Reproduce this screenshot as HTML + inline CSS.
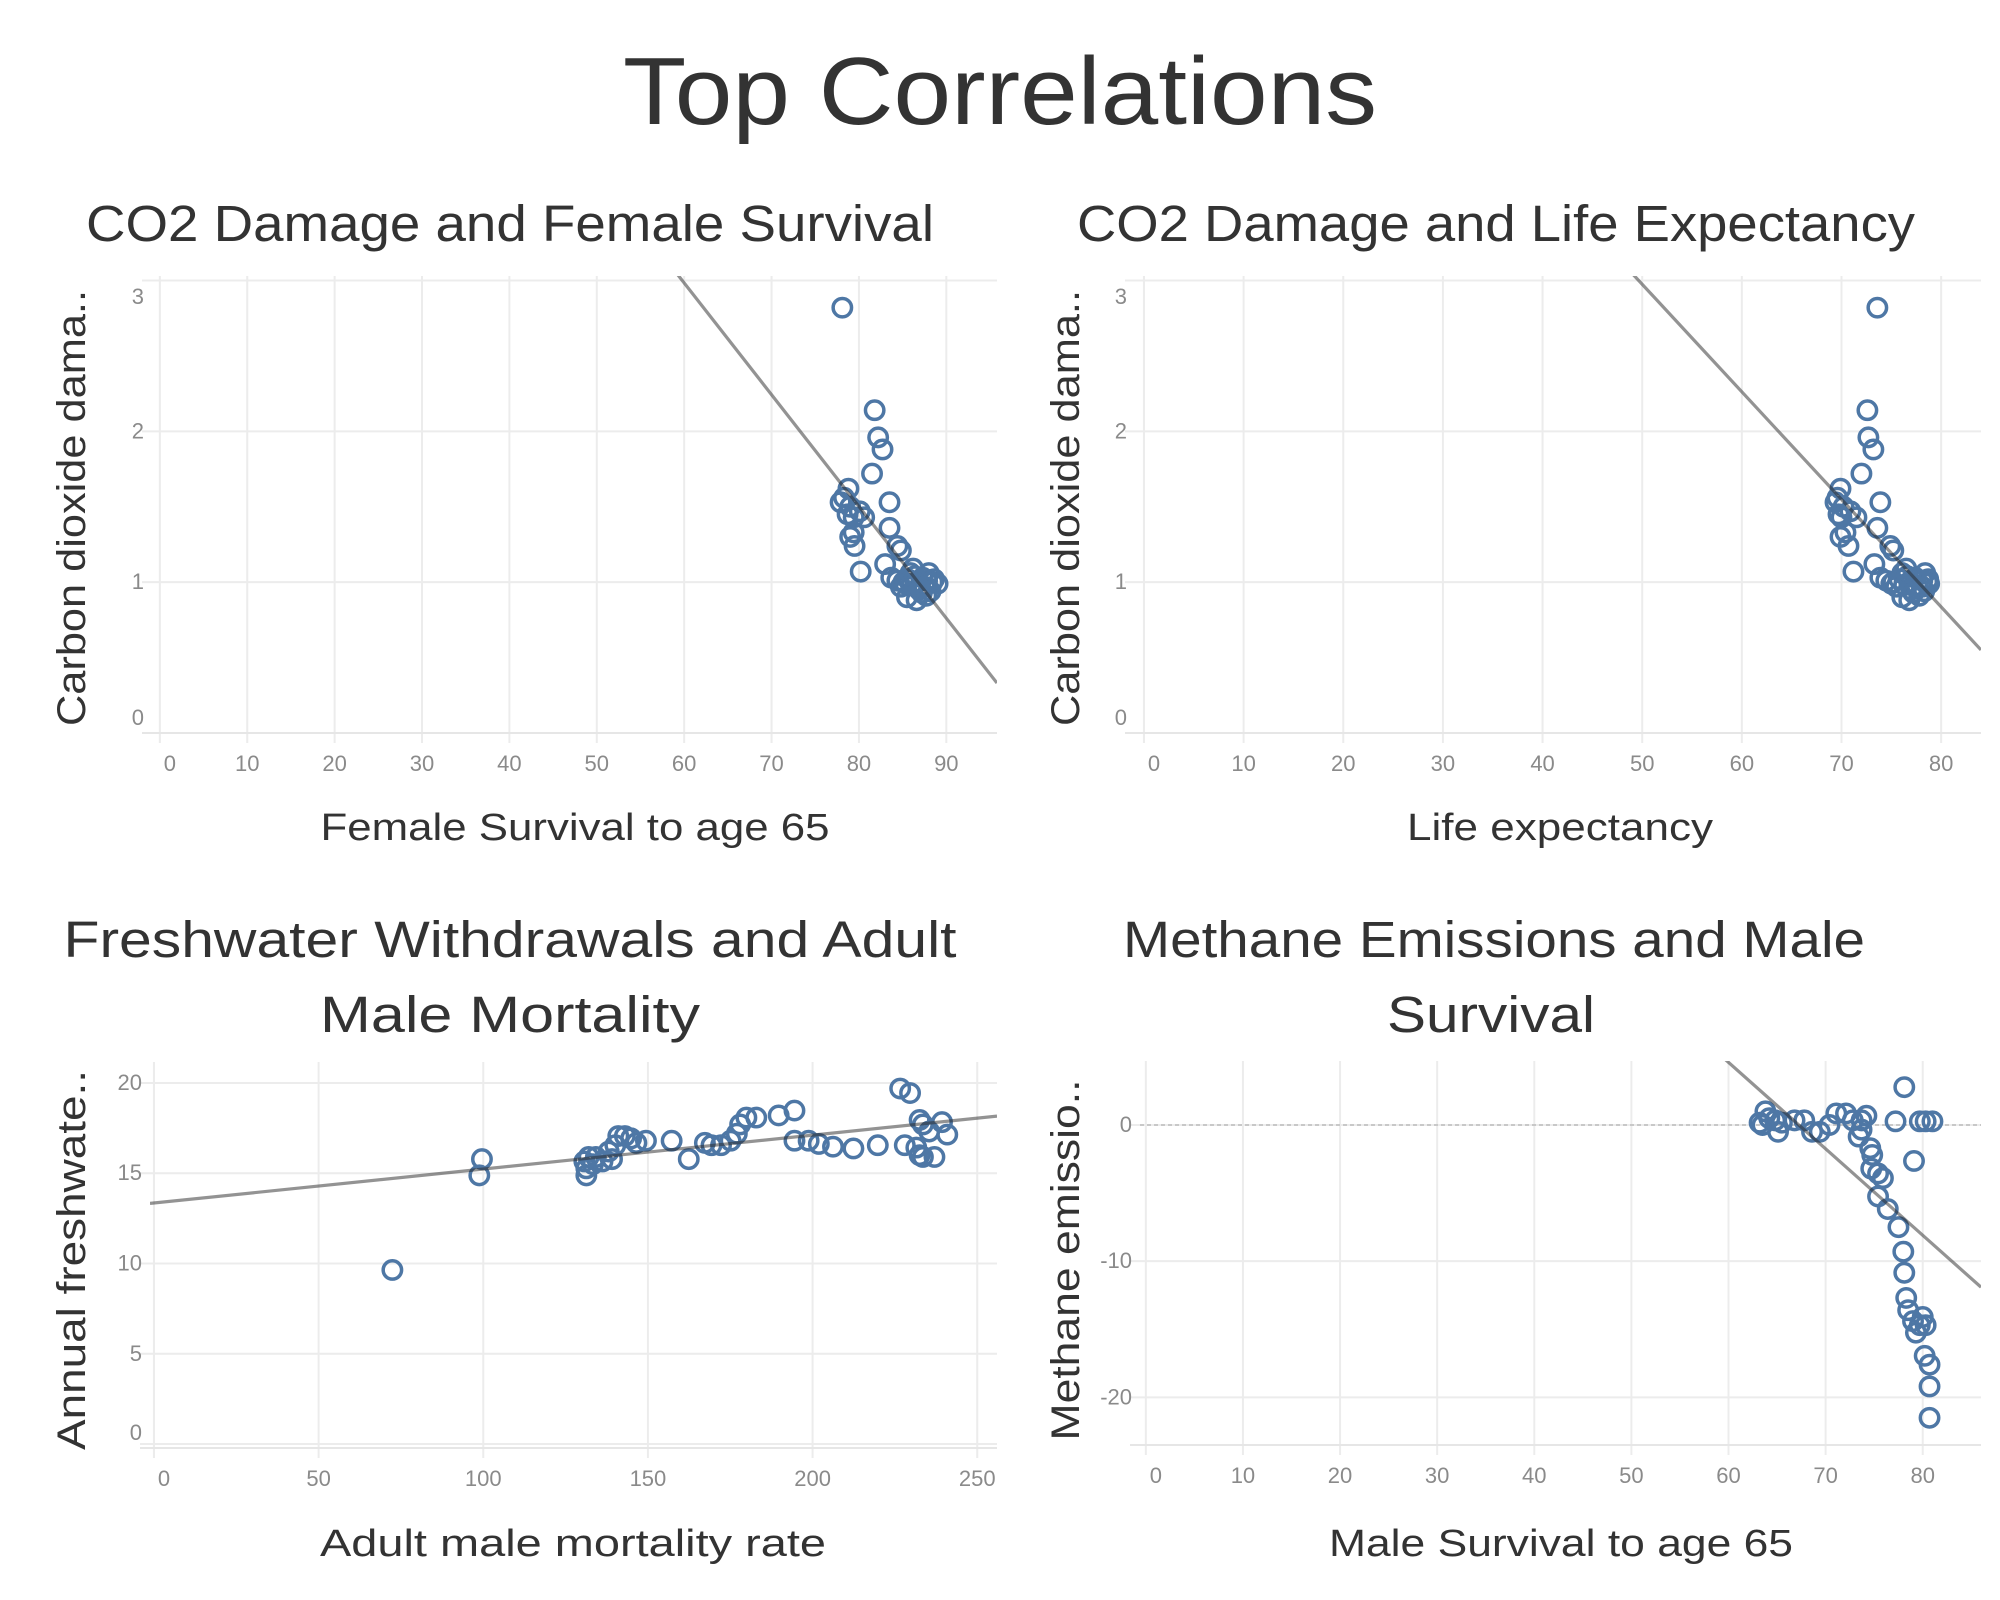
<!DOCTYPE html>
<html><head><meta charset="utf-8"><style>
html,body{margin:0;padding:0;background:#fff;}
svg{display:block;font-family:"Liberation Sans",sans-serif;}
</style></head><body>
<svg id="chart" width="2000" height="1600" viewBox="0 0 2000 1600" xmlns="http://www.w3.org/2000/svg">
<text x="1000" y="124" text-anchor="middle" font-size="96" fill="#333" textLength="754" lengthAdjust="spacingAndGlyphs">Top Correlations</text>
<text x="510" y="241" text-anchor="middle" font-size="51" fill="#333" textLength="848" lengthAdjust="spacingAndGlyphs">CO2 Damage and Female Survival</text>
<text x="1496" y="241" text-anchor="middle" font-size="51" fill="#333" textLength="838" lengthAdjust="spacingAndGlyphs">CO2 Damage and Life Expectancy</text>
<text x="510" y="957" text-anchor="middle" font-size="51" fill="#333" textLength="893" lengthAdjust="spacingAndGlyphs">Freshwater Withdrawals and Adult</text>
<text x="510" y="1032" text-anchor="middle" font-size="51" fill="#333" textLength="380" lengthAdjust="spacingAndGlyphs">Male Mortality</text>
<text x="1494" y="957" text-anchor="middle" font-size="51" fill="#333" textLength="742" lengthAdjust="spacingAndGlyphs">Methane Emissions and Male</text>
<text x="1491" y="1032" text-anchor="middle" font-size="51" fill="#333" textLength="208" lengthAdjust="spacingAndGlyphs">Survival</text>
<g id="panels"></g>
</svg>
<script>
// Panel 1 data: Female survival vs CO2 damage
const p1X = [78.1,81.8,82.2,82.7,81.5,83.5,78.8,78.3,77.9,79.0,80.1,79.4,78.7,80.6,79.0,79.5,79.4,83.5,84.4,84.8,83.0,80.2,83.7,84.4,85.1,85.9,86.2,86.6,87.3,87.8,88.4,89.0,85.5,86.6,87.7,87.0,84.8,88.0,85.6,86.0,86.9,87.5,88.2,85.3,86.4,87.2,88.6];
const p1Y = [2.82,2.14,1.96,1.88,1.72,1.53,1.62,1.56,1.53,1.50,1.47,1.43,1.45,1.43,1.30,1.24,1.33,1.36,1.24,1.21,1.12,1.07,1.03,1.01,1.00,1.06,1.09,1.00,1.03,1.01,1.00,0.99,0.90,0.88,0.91,0.97,0.97,1.06,1.02,0.98,0.95,0.97,0.94,0.99,1.04,0.93,1.02];
const p1Trend = [7.43,-0.0741];
// Panel 2 data: Life expectancy vs CO2 damage
const p2X = [73.6,72.6,72.7,73.2,72.0,73.9,69.9,69.6,69.4,70.2,70.9,70.0,69.7,71.5,69.9,70.7,70.4,73.6,74.9,75.2,73.3,71.2,73.9,74.5,75.2,76.1,76.5,76.8,77.4,78.1,78.6,78.8,76.1,76.8,77.8,78.1,75.5,78.4,75.8,76.3,77.0,77.6,78.3,75.0,76.6,77.2,78.7];
const p2Y = [2.82,2.14,1.96,1.88,1.72,1.53,1.62,1.56,1.53,1.50,1.47,1.43,1.45,1.43,1.30,1.24,1.33,1.36,1.24,1.21,1.12,1.07,1.03,1.01,1.00,1.06,1.09,1.00,1.03,1.01,1.00,0.99,0.90,0.88,0.91,0.97,0.97,1.06,1.02,0.98,0.95,0.97,0.94,0.99,1.04,0.93,1.02];
const p2Trend = [6.54,-0.0713];
// Panel 3 data: Adult male mortality vs freshwater withdrawals
const p3X = [72.4,99.6,98.8,131.3,131.3,130.7,132.0,133.3,134.2,136.2,138.1,139.1,140.1,141.0,143.0,144.9,146.5,149.4,157.2,162.4,167.3,169.3,172.2,175.1,177.0,178.0,179.9,182.9,189.7,194.5,194.5,198.8,201.9,206.2,212.4,219.8,226.6,229.6,228.0,232.5,233.5,231.5,233.5,237.0,239.3,240.9,235.4,232.5];
const p3Y = [9.64,15.78,14.88,14.88,15.27,15.65,15.9,15.5,15.9,15.65,16.2,15.78,16.55,17.06,17.06,16.93,16.68,16.8,16.8,15.78,16.68,16.55,16.55,16.8,17.19,17.7,18.08,18.08,18.2,18.47,16.8,16.8,16.62,16.47,16.37,16.55,19.69,19.44,16.55,17.95,17.7,16.42,15.9,15.9,17.83,17.14,17.31,16.0];
const p3Trend = [13.35,0.0188];
// Panel 4 data: Male survival vs methane emissions
const p4X = [63.2,63.8,63.5,64.2,64.8,65.1,65.5,66.8,67.8,68.6,69.4,70.4,71.1,72.1,72.8,73.4,73.7,74.2,73.7,74.6,74.8,74.7,75.4,75.9,75.4,76.4,77.5,77.2,78.1,79.1,78.0,78.1,78.3,78.5,79.0,79.3,79.7,80.0,80.3,80.2,80.7,80.7,80.7,79.7,80.3,81.0];
const p4Y = [0.17,1.0,0,0.5,0.34,-0.5,0.17,0.34,0.34,-0.5,-0.5,0,0.85,0.85,0.34,-0.85,0.34,0.68,-0.34,-1.7,-2.2,-3.2,-3.56,-3.9,-5.25,-6.17,-7.5,0.27,2.78,-2.64,-9.3,-10.85,-12.7,-13.6,-14.4,-15.25,-14.7,-14.1,-14.7,-16.95,-17.6,-19.2,-21.5,0.27,0.27,0.27];
const p4Trend = [42.7,-0.635];

const p1XTicks=[0,10,20,30,40,50,60,70,80,90], p1YTicks=[0,1,2,3];
const p2XTicks=[0,10,20,30,40,50,60,70,80], p2YTicks=[0,1,2,3];
const p3XTicks=[0,50,100,150,200,250], p3YTicks=[0,5,10,15,20];
const p4XTicks=[0,10,20,30,40,50,60,70,80], p4YTicks=[-20,-10,0];

const NS="http://www.w3.org/2000/svg";
const root=document.getElementById('panels');
function mk(tag,attrs,parent){const e=document.createElementNS(NS,tag);for(const k in attrs)e.setAttribute(k,attrs[k]);(parent||root).appendChild(e);return e;}

const panels=[
 {id:'panel1',xs:p1X,ys:p1Y,tr:p1Trend,xt:p1XTicks,yt:p1YTicks,px:[152,997],py:[276,733],xd:[-0.9,95.8],yd:[3.03,0],xTitle:'Female Survival to age 65',xTitleX:575,xTitleY:840,xTitleW:509,yTitle:'Carbon dioxide dama..',yTitleX:71,yTitleY:508,yTitleW:436,zero:false},
 {id:'panel2',xs:p2X,ys:p2Y,tr:p2Trend,xt:p2XTicks,yt:p2YTicks,px:[1135,1981],py:[276,733],xd:[-0.9,84.0],yd:[3.03,0],xTitle:'Life expectancy',xTitleX:1560,xTitleY:840,xTitleW:306,yTitle:'Carbon dioxide dama..',yTitleX:1065,yTitleY:508,yTitleW:436,zero:false},
 {id:'panel3',xs:p3X,ys:p3Y,tr:p3Trend,xt:p3XTicks,yt:p3YTicks,px:[150,997],py:[1062,1448],xd:[-1.2,256],yd:[21.16,-0.22],xTitle:'Adult male mortality rate',xTitleX:573,xTitleY:1556,xTitleW:506,yTitle:'Annual freshwate..',yTitleX:71,yTitleY:1260,yTitleW:380,zero:false},
 {id:'panel4',xs:p4X,ys:p4Y,tr:p4Trend,xt:p4XTicks,yt:p4YTicks,px:[1140,1981],py:[1061,1445],xd:[-0.6,86.0],yd:[4.7,-23.5],xTitle:'Male Survival to age 65',xTitleX:1561,xTitleY:1556,xTitleW:464,yTitle:'Methane emissio..',yTitleX:1065,yTitleY:1260,yTitleW:361,zero:true}
];

panels.forEach(p=>{
 const g=mk('g',{});
 
 
 const sx=v=>p.px[0]+(v-p.xd[0])/(p.xd[1]-p.xd[0])*(p.px[1]-p.px[0]);
 const sy=v=>p.py[0]+(v-p.yd[0])/(p.yd[1]-p.yd[0])*(p.py[1]-p.py[0]);
 const clip='clip-'+p.id;
 const cp=mk('clipPath',{id:clip},g);
 mk('rect',{x:p.px[0],y:p.py[0],width:p.px[1]-p.px[0],height:p.py[1]-p.py[0]},cp);
 p.xt.forEach(t=>{
  const l=mk('line',{x1:sx(t),x2:sx(t),y1:p.py[0],y2:p.py[1]+10,stroke:'#ececec','stroke-width':2},g);
  
  
  const tx=mk('text',{x:sx(t)+(t===0?10:0),y:p.py[1]+38,'text-anchor':'middle','font-size':22,fill:'#8a8a8a'},g);
  tx.textContent=t;
  
  
 });
 p.yt.forEach(t=>{
  const y=sy(t);
  const l=mk('line',{x1:p.px[0]-10,x2:p.px[1],y1:y,y2:y,stroke:'#ececec','stroke-width':2},g);
  
  
  let ly=y+7; ly=Math.max(p.py[0]+28,Math.min(p.py[1]-8,ly));
  const tx=mk('text',{x:p.px[0]-8,y:ly,'text-anchor':'end','font-size':22,fill:'#8a8a8a'},g);
  tx.textContent=t;
  
  
 });
 const ax=mk('line',{x1:p.px[0]-10,x2:p.px[1],y1:p.py[1],y2:p.py[1],stroke:'#e6e6e6','stroke-width':2},g);
 
 
 if(p.zero){
  const z=mk('line',{x1:p.px[0],x2:p.px[1],y1:sy(0),y2:sy(0),stroke:'#bbb','stroke-width':1.5,'stroke-dasharray':'4 3'},g);
  
  
 }
 const pg=mk('g',{'clip-path':'url(#'+clip+')'},g);
 p.xs.forEach((v,i)=>{
  const c=mk('circle',{cx:sx(v),cy:sy(p.ys[i]),r:9.2,fill:'none',stroke:'#4e77a5','stroke-width':3.5},pg);
  
  
 });
 const x0=p.xd[0],x1=p.xd[1];
 const tl=mk('line',{x1:sx(x0),y1:sy(p.tr[0]+p.tr[1]*x0),x2:sx(x1),y2:sy(p.tr[0]+p.tr[1]*x1),stroke:'rgba(40,40,40,0.5)','stroke-width':3.2},pg);
 
 
 const xt=mk('text',{x:p.xTitleX,y:p.xTitleY,'text-anchor':'middle','font-size':38,fill:'#333',textLength:p.xTitleW,lengthAdjust:'spacingAndGlyphs'},g);
 xt.textContent=p.xTitle;
 
 
 const yt=mk('text',{x:0,y:0,'text-anchor':'middle','font-size':40,fill:'#333',textLength:p.yTitleW,lengthAdjust:'spacingAndGlyphs',transform:'translate('+(p.yTitleX+14)+','+p.yTitleY+') rotate(-90)'},g);
 yt.textContent=p.yTitle;
 
 
});
</script>
</body></html>
